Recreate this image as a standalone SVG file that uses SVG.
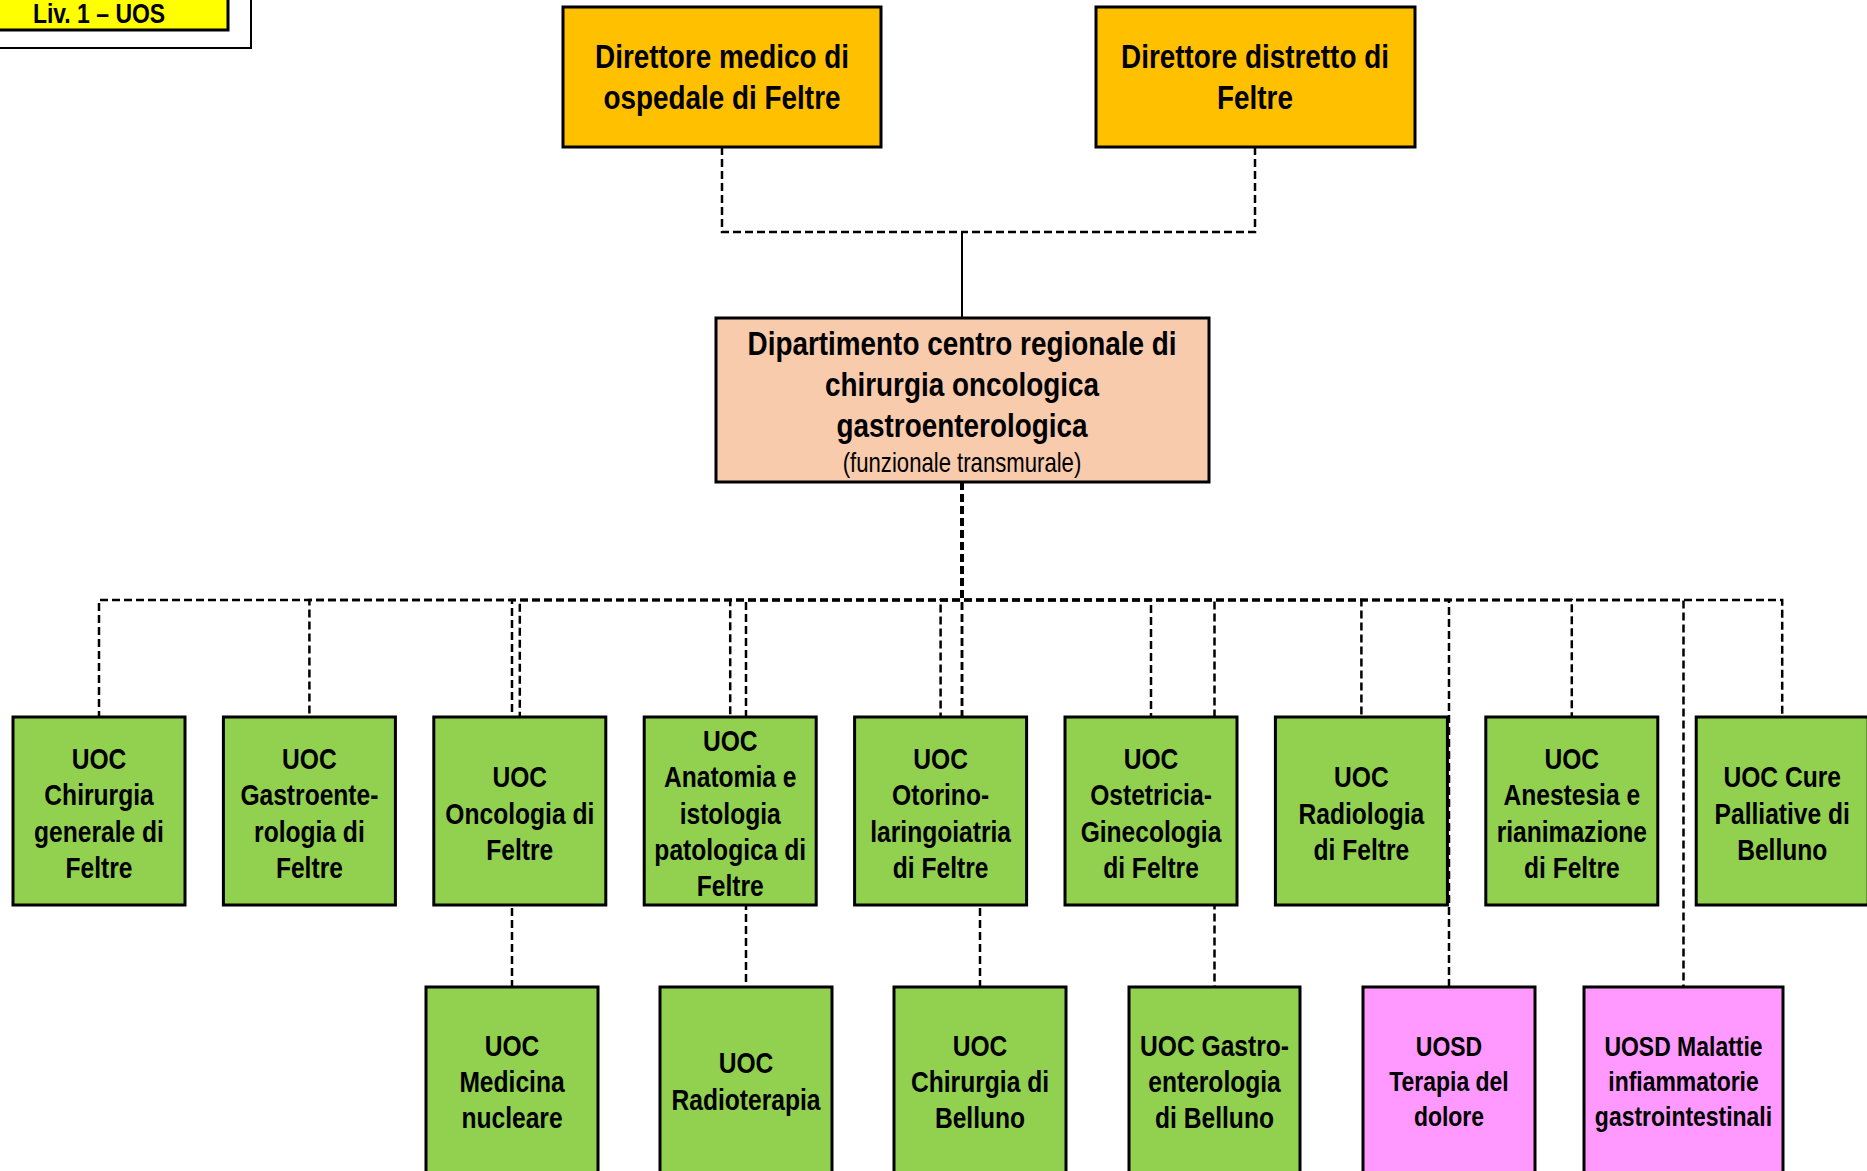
<svg xmlns="http://www.w3.org/2000/svg" width="1867" height="1171" viewBox="0 0 1867 1171">
<style>
  .box{stroke:#000;stroke-width:3}
  .or{fill:#FFC000}
  .sa{fill:#F8CBAD}
  .gr{fill:#92D050}
  .pk{fill:#FF99FF}
  .t{font-family:"Liberation Sans",Arial,sans-serif;font-weight:bold;font-size:30px;text-anchor:middle;fill:#000}
  .big{font-size:34px}
  .sm{font-weight:normal;font-size:27px}
  .dash{fill:none;stroke:#000;stroke-width:2.5;stroke-dasharray:8 4}
  .solid{fill:none;stroke:#000;stroke-width:2}
</style>
<rect x="0" y="0" width="1867" height="1171" fill="#fff"/>
<g id="legend">
  <rect x="-5" y="-5" width="256" height="53" fill="#fff" stroke="#000" stroke-width="2"/>
  <rect x="-5" y="-5" width="233" height="35" fill="#FFFF00" stroke="#000" stroke-width="3"/>
  <text class="t" transform="matrix(0.82,0,0,1,99,0)" x="0" y="23" style="font-size:28px">Liv. 1 – UOS</text>
</g>
<g id="connectors">
  <path class="dash" d="M722,147 V232 H962"/>
  <path class="dash" d="M1255,147 V232 H962"/>
  <path class="solid" d="M962,232 V318"/>
  <path class="dash" d="M962,482 V600 H99 V717"/>
  <path class="dash" d="M962,482 V600 H309.4 V717"/>
  <path class="dash" d="M962,482 V600 H519.8 V717"/>
  <path class="dash" d="M962,482 V600 H730.2 V717"/>
  <path class="dash" d="M962,482 V600 H940.6 V717"/>
  <path class="dash" d="M962,482 V717"/>
  <path class="dash" d="M962,482 V600 H1151 V717"/>
  <path class="dash" d="M962,482 V600 H1361.4 V717"/>
  <path class="dash" d="M962,482 V600 H1571.8 V717"/>
  <path class="dash" d="M962,482 V600 H1782.2 V717"/>
  <path class="dash" d="M962,482 V600 H512 V987"/>
  <path class="dash" d="M962,482 V600 H746 V987"/>
  <path class="dash" d="M962,482 V810 H980 V987"/>
  <path class="dash" d="M962,482 V600 H1214.5 V987"/>
  <path class="dash" d="M962,482 V600 H1449 V987"/>
  <path class="dash" d="M962,482 V600 H1683.5 V987"/>
</g>
<g id="dir-medico">
  <rect class="box or" x="563" y="7" width="318" height="140"/>
  <text class="t big" transform="matrix(0.82,0,0,1,722,0)"><tspan x="0" y="68">Direttore medico di</tspan><tspan x="0" y="109">ospedale di Feltre</tspan></text>
</g>
<g id="dir-distretto">
  <rect class="box or" x="1096" y="7" width="319" height="140"/>
  <text class="t big" transform="matrix(0.82,0,0,1,1255,0)"><tspan x="0" y="68">Direttore distretto di</tspan><tspan x="0" y="109">Feltre</tspan></text>
</g>
<g id="dipartimento">
  <rect class="box sa" x="716" y="318" width="493" height="164"/>
  <text class="t big" transform="matrix(0.82,0,0,1,962,0)"><tspan x="0" y="355">Dipartimento centro regionale di</tspan><tspan x="0" y="396">chirurgia oncologica</tspan><tspan x="0" y="437">gastroenterologica</tspan></text>
  <text class="t sm" transform="matrix(0.82,0,0,1,962,0)" x="0" y="472">(funzionale transmurale)</text>
</g>
<g id="uoc-chirurgia-feltre">
  <rect class="box gr" x="13" y="717" width="172" height="188"/>
  <text class="t" transform="matrix(0.82,0,0,1,99,0)"><tspan x="0" y="769">UOC</tspan><tspan x="0" y="805">Chirurgia</tspan><tspan x="0" y="842">generale di</tspan><tspan x="0" y="878">Feltre</tspan></text>
</g>
<g id="uoc-gastro-feltre">
  <rect class="box gr" x="223.4" y="717" width="172" height="188"/>
  <text class="t" transform="matrix(0.82,0,0,1,309.4,0)"><tspan x="0" y="769">UOC</tspan><tspan x="0" y="805">Gastroente-</tspan><tspan x="0" y="842">rologia di</tspan><tspan x="0" y="878">Feltre</tspan></text>
</g>
<g id="uoc-oncologia-feltre">
  <rect class="box gr" x="433.8" y="717" width="172" height="188"/>
  <text class="t" transform="matrix(0.82,0,0,1,519.8,0)"><tspan x="0" y="787">UOC</tspan><tspan x="0" y="824">Oncologia di</tspan><tspan x="0" y="860">Feltre</tspan></text>
</g>
<g id="uoc-anatomia-feltre">
  <rect class="box gr" x="644.2" y="717" width="172" height="188"/>
  <text class="t" transform="matrix(0.82,0,0,1,730.2,0)"><tspan x="0" y="751">UOC</tspan><tspan x="0" y="787">Anatomia e</tspan><tspan x="0" y="824">istologia</tspan><tspan x="0" y="860">patologica di</tspan><tspan x="0" y="896">Feltre</tspan></text>
</g>
<g id="uoc-otorino-feltre">
  <rect class="box gr" x="854.6" y="717" width="172" height="188"/>
  <text class="t" transform="matrix(0.82,0,0,1,940.6,0)"><tspan x="0" y="769">UOC</tspan><tspan x="0" y="805">Otorino-</tspan><tspan x="0" y="842">laringoiatria</tspan><tspan x="0" y="878">di Feltre</tspan></text>
</g>
<g id="uoc-ostetricia-feltre">
  <rect class="box gr" x="1065" y="717" width="172" height="188"/>
  <text class="t" transform="matrix(0.82,0,0,1,1151,0)"><tspan x="0" y="769">UOC</tspan><tspan x="0" y="805">Ostetricia-</tspan><tspan x="0" y="842">Ginecologia</tspan><tspan x="0" y="878">di Feltre</tspan></text>
</g>
<g id="uoc-radiologia-feltre">
  <rect class="box gr" x="1275.4" y="717" width="172" height="188"/>
  <text class="t" transform="matrix(0.82,0,0,1,1361.4,0)"><tspan x="0" y="787">UOC</tspan><tspan x="0" y="824">Radiologia</tspan><tspan x="0" y="860">di Feltre</tspan></text>
</g>
<g id="uoc-anestesia-feltre">
  <rect class="box gr" x="1485.8" y="717" width="172" height="188"/>
  <text class="t" transform="matrix(0.82,0,0,1,1571.8,0)"><tspan x="0" y="769">UOC</tspan><tspan x="0" y="805">Anestesia e</tspan><tspan x="0" y="842">rianimazione</tspan><tspan x="0" y="878">di Feltre</tspan></text>
</g>
<g id="uoc-cure-palliative-belluno">
  <rect class="box gr" x="1696.2" y="717" width="172" height="188"/>
  <text class="t" transform="matrix(0.82,0,0,1,1782.2,0)"><tspan x="0" y="787">UOC Cure</tspan><tspan x="0" y="824">Palliative di</tspan><tspan x="0" y="860">Belluno</tspan></text>
</g>
<g id="uoc-medicina-nucleare">
  <rect class="box gr" x="426" y="987" width="172" height="200"/>
  <text class="t" transform="matrix(0.82,0,0,1,512,0)"><tspan x="0" y="1056">UOC</tspan><tspan x="0" y="1092">Medicina</tspan><tspan x="0" y="1128">nucleare</tspan></text>
</g>
<g id="uoc-radioterapia">
  <rect class="box gr" x="660" y="987" width="172" height="200"/>
  <text class="t" transform="matrix(0.82,0,0,1,746,0)"><tspan x="0" y="1073">UOC</tspan><tspan x="0" y="1110">Radioterapia</tspan></text>
</g>
<g id="uoc-chirurgia-belluno">
  <rect class="box gr" x="894" y="987" width="172" height="200"/>
  <text class="t" transform="matrix(0.82,0,0,1,980,0)"><tspan x="0" y="1056">UOC</tspan><tspan x="0" y="1092">Chirurgia di</tspan><tspan x="0" y="1128">Belluno</tspan></text>
</g>
<g id="uoc-gastro-belluno">
  <rect class="box gr" x="1129" y="987" width="171" height="200"/>
  <text class="t" transform="matrix(0.82,0,0,1,1214.5,0)"><tspan x="0" y="1056">UOC Gastro-</tspan><tspan x="0" y="1092">enterologia</tspan><tspan x="0" y="1128">di Belluno</tspan></text>
</g>
<g id="uosd-terapia-dolore">
  <rect class="box pk" x="1363" y="987" width="172" height="200"/>
  <text class="t" transform="matrix(0.82,0,0,1,1449,0)" style="font-size:28px"><tspan x="0" y="1056">UOSD</tspan><tspan x="0" y="1091">Terapia del</tspan><tspan x="0" y="1126">dolore</tspan></text>
</g>
<g id="uosd-malattie-infiammatorie">
  <rect class="box pk" x="1584" y="987" width="199" height="200"/>
  <text class="t" transform="matrix(0.82,0,0,1,1683.5,0)" style="font-size:28px"><tspan x="0" y="1056">UOSD Malattie</tspan><tspan x="0" y="1091">infiammatorie</tspan><tspan x="0" y="1126">gastrointestinali</tspan></text>
</g>
</svg>
